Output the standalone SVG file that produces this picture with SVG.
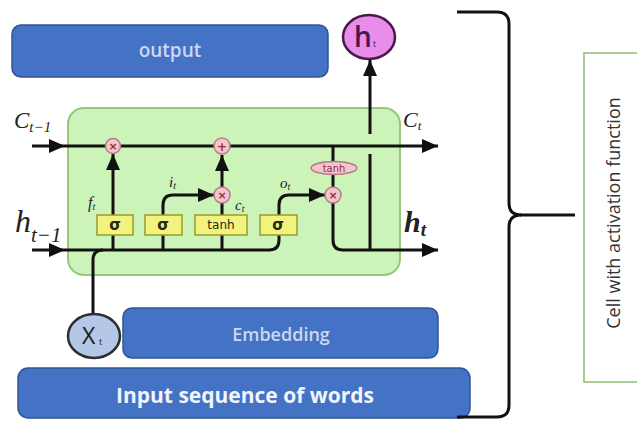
<svg xmlns="http://www.w3.org/2000/svg" width="637" height="421" viewBox="0 0 637 421">
  <defs>
    <marker id="arrow" markerUnits="userSpaceOnUse" markerWidth="17" markerHeight="15" refX="16" refY="7" orient="auto">
      <path d="M0,0 L16,7 L0,14 Z" fill="#111"/>
    </marker>
    <style>
      .blue { fill: #4472c4; stroke: #2f5597; stroke-width: 1.5; }
      .btxt { font-family: "Open Sans", "Liberation Sans", sans-serif; text-anchor: middle; }
      .wire { fill: none; stroke: #111; stroke-width: 3; }
      .gate { fill: #f2f27e; stroke: #9a9a2a; stroke-width: 1.5; }
      .gtxt { font-family: "DejaVu Sans", "Liberation Sans", sans-serif; text-anchor: middle; fill: #2a2a10; }
      .op { fill: #f3c6cf; stroke: #b77a89; stroke-width: 1.5; }
      .otxt { font-family: "DejaVu Sans", sans-serif; text-anchor: middle; fill: #9a2a3a; }
      .sym { font-weight: bold; }
      .math { font-family: "Liberation Serif", "DejaVu Serif", serif; font-style: italic; fill: #222; }
    </style>
  </defs>
  <rect width="637" height="421" fill="#ffffff"/>

  <!-- output layer -->
  <g id="output">
    <rect class="blue" x="12" y="25" width="316" height="52" rx="9"/>
    <text class="btxt" x="170" y="57" font-size="19" font-weight="600" fill="#cbd8f2">output</text>
  </g>

  <!-- hidden state emitted upward -->
  <g id="h-out">
    <ellipse cx="369" cy="37" rx="26" ry="22" fill="#e88de9" stroke="#4a1a4a" stroke-width="2.5"/>
    <text x="354" y="47" font-family="Open Sans, Liberation Sans, sans-serif" font-size="28" font-weight="600" fill="#4a1650">h</text>
    <text x="373" y="47" font-family="Open Sans, Liberation Sans, sans-serif" font-size="9" fill="#4a1650">t</text>
  </g>

  <!-- LSTM cell body -->
  <g id="cell">
    <rect x="68" y="108" width="332" height="167" rx="16" fill="#cdf4b8" stroke="#97c77c" stroke-width="2"/>
  </g>

  <!-- connectors -->
  <g id="connectors">
    <!-- cell state -->
    <line class="wire" x1="32" y1="146" x2="65" y2="146" marker-end="url(#arrow)"/>
    <line class="wire" x1="65" y1="146" x2="438" y2="146" marker-end="url(#arrow)"/>
    <!-- hidden state input -->
    <line class="wire" x1="32" y1="250" x2="65" y2="250" marker-end="url(#arrow)"/>
    <path class="wire" d="M65,250 L269,250 Q279,250 279,240 L279,235"/>
    <line class="wire" x1="113" y1="250" x2="113" y2="235"/>
    <line class="wire" x1="163" y1="250" x2="163" y2="235"/>
    <line class="wire" x1="222" y1="250" x2="222" y2="235"/>
    <!-- x_t joins the hidden line -->
    <path class="wire" d="M93,314 L93,260 Q93,250 103,250"/>
    <!-- forget gate -->
    <line class="wire" x1="113" y1="215" x2="113" y2="154" marker-end="url(#arrow)"/>
    <!-- input gate -->
    <path class="wire" d="M163,215 L163,205 Q163,195 173,195 L214,195" marker-end="url(#arrow)"/>
    <!-- candidate -->
    <line class="wire" x1="222" y1="215" x2="222" y2="203"/>
    <line class="wire" x1="222" y1="187" x2="222" y2="155" marker-end="url(#arrow)"/>
    <!-- output gate -->
    <path class="wire" d="M279,215 L279,205 Q279,195 289,195 L325,195" marker-end="url(#arrow)"/>
    <!-- cell state to tanh to product -->
    <line class="wire" x1="333" y1="146" x2="333" y2="162"/>
    <line class="wire" x1="333" y1="174" x2="333" y2="187"/>
    <!-- new hidden state -->
    <path class="wire" d="M333,203 L333,240 Q333,250 343,250 L438,250" marker-end="url(#arrow)"/>
    <line class="wire" x1="370" y1="250" x2="370" y2="154"/>
    <line class="wire" x1="370" y1="134" x2="370" y2="60" marker-end="url(#arrow)"/>
  </g>

  <!-- pointwise operations -->
  <g id="op-forget">
    <circle class="op" cx="113" cy="146" r="7.5"/>
    <text class="otxt sym" x="113" y="150" font-size="11">×</text>
  </g>
  <g id="op-add">
    <circle class="op" cx="222" cy="146" r="8"/>
    <text class="otxt sym" x="222" y="150.5" font-size="12">+</text>
  </g>
  <g id="op-input">
    <circle class="op" cx="222" cy="195" r="8"/>
    <text class="otxt sym" x="222" y="199" font-size="11">×</text>
  </g>
  <g id="op-output">
    <circle class="op" cx="333" cy="195" r="8"/>
    <text class="otxt sym" x="333" y="199" font-size="11">×</text>
  </g>
  <g id="op-tanh">
    <ellipse class="op" cx="334" cy="168" rx="23" ry="6.5"/>
    <text class="otxt" x="334" y="171.5" font-size="10">tanh</text>
  </g>

  <!-- gate layers -->
  <g id="gate-f">
    <rect class="gate" x="97" y="215" width="36" height="20"/>
    <text class="gtxt" x="115" y="230" font-size="15" font-weight="bold">σ</text>
  </g>
  <g id="gate-i">
    <rect class="gate" x="145" y="215" width="37" height="20"/>
    <text class="gtxt" x="163" y="230" font-size="15" font-weight="bold">σ</text>
  </g>
  <g id="gate-c">
    <rect class="gate" x="195" y="215" width="52" height="20"/>
    <text class="gtxt" x="221" y="229" font-size="12">tanh</text>
  </g>
  <g id="gate-o">
    <rect class="gate" x="260" y="215" width="37" height="20"/>
    <text class="gtxt" x="278" y="230" font-size="15" font-weight="bold">σ</text>
  </g>

  <!-- signal labels -->
  <g id="labels">
    <text class="math" x="14" y="128" font-size="23">C<tspan font-size="15" dy="4">t−1</tspan></text>
    <text class="math" x="403" y="127" font-size="22">C<tspan font-size="13" dy="3">t</tspan></text>
    <text class="math" x="15" y="232" font-size="32">h<tspan font-size="21" dy="10">t−1</tspan></text>
    <text class="math" x="404" y="232" font-size="30" font-weight="bold">h<tspan font-size="19" dy="4">t</tspan></text>
    <text class="math" x="88" y="208" font-size="16">f<tspan font-size="10" dy="2">t</tspan></text>
    <text class="math" x="169" y="187" font-size="15">i<tspan font-size="10" dy="2">t</tspan></text>
    <text class="math" x="235" y="210" font-size="15">c<tspan font-size="10" dy="2">t</tspan></text>
    <text class="math" x="280" y="188" font-size="15">o<tspan font-size="10" dy="2">t</tspan></text>
  </g>

  <!-- word vector input -->
  <g id="x-in">
    <ellipse cx="94" cy="336" rx="26" ry="22" fill="#b4c7e7" stroke="#2d2d2d" stroke-width="2.5"/>
    <text x="82" y="344" font-family="Open Sans, Liberation Sans, sans-serif" font-size="23" fill="#1a1a1a">X</text>
    <text x="99" y="345" font-family="Open Sans, Liberation Sans, sans-serif" font-size="9" fill="#1a1a1a">t</text>
  </g>

  <g id="embedding">
    <rect class="blue" x="123" y="308" width="315" height="50" rx="9"/>
    <text class="btxt" x="281" y="341" font-size="18" font-weight="600" fill="#cbd8f2">Embedding</text>
  </g>

  <g id="input">
    <rect class="blue" x="18" y="368" width="452" height="50" rx="10"/>
    <text class="btxt" x="245" y="403" font-size="21" font-weight="bold" fill="#f2f5fb">Input sequence of words</text>
  </g>

  <!-- brace grouping the cell -->
  <g id="brace">
    <path d="M457,12 L497,12 Q509,12 509,24 L509,203 Q509,215 521,215 Q509,215 509,227 L509,405 Q509,417 497,417 L457,417" fill="none" stroke="#111" stroke-width="3"/>
    <line x1="520" y1="215" x2="575" y2="215" stroke="#111" stroke-width="3"/>
  </g>

  <g id="cell-label">
    <rect x="584" y="53" width="60" height="329" fill="#ffffff" stroke="#8fbc6f" stroke-width="1.5"/>
    <text transform="translate(620,213) rotate(-90)" text-anchor="middle" font-family="Open Sans, Liberation Sans, sans-serif" font-size="18" fill="#333">Cell with activation function</text>
  </g>
</svg>
